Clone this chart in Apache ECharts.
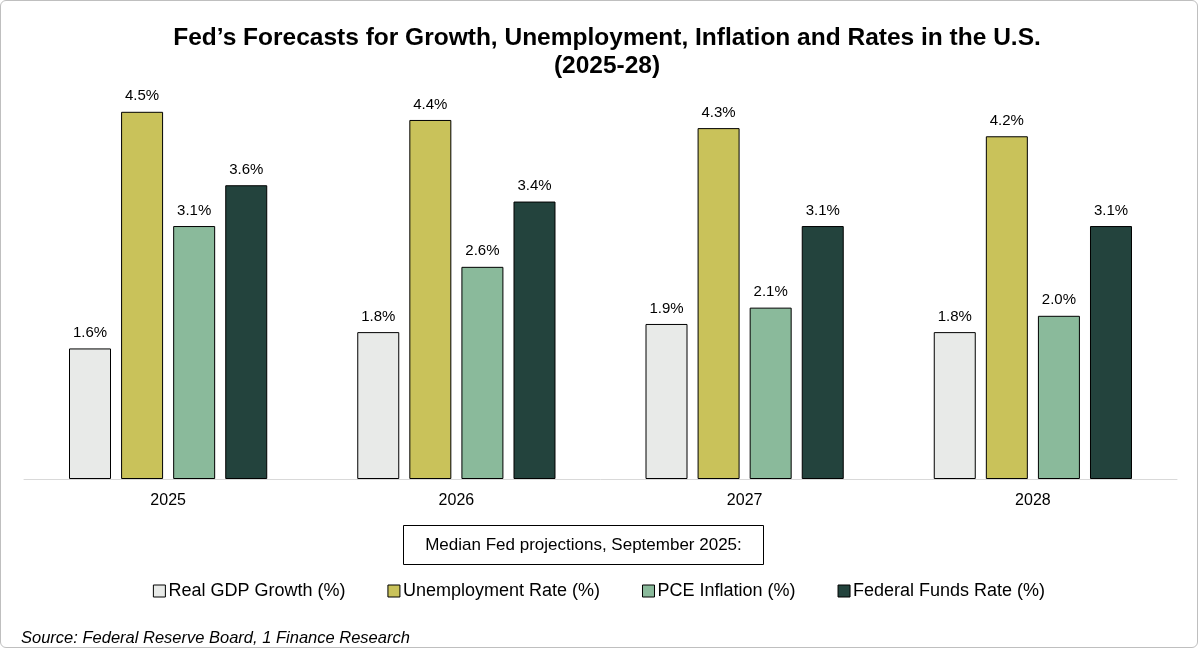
<!DOCTYPE html>
<html>
<head>
<meta charset="utf-8">
<script src="https://cdn.jsdelivr.net/npm/echarts@6/dist/echarts.min.js"></script>
<style>
  html, body { margin: 0; padding: 0; background: #fff; }
  #main { width: 1198px; height: 648px; border: 1px solid #bfbfbf; border-radius: 6px; box-sizing: border-box; }
</style>
</head>
<body>
<div id="main"></div>
<script>
// 数据
var years = ['2025', '2026', '2027', '2028'];
var gdp = [1.6, 1.8, 1.9, 1.8];
var unemployment = [4.5, 4.4, 4.3, 4.2];
var pce = [3.1, 2.6, 2.1, 2.0];
var fedFunds = [3.6, 3.4, 3.1, 3.1];

(function () {
  var chart = echarts.init(document.getElementById('main'));
  var font = '"Liberation Sans", Arial, sans-serif';

  function bar(name, data, color) {
    return {
      name: name,
      type: 'bar',
      data: data,
      barWidth: 42,
      barGap: '24%',
      itemStyle: { color: color, borderColor: '#000', borderWidth: 1 },
      label: {
        show: true,
        position: 'top',
        distance: 8,
        color: '#000',
        fontSize: 15,
        fontFamily: font,
        formatter: function (p) { return p.value.toFixed(1) + '%'; }
      }
    };
  }

  var option = {
    textStyle: { fontFamily: font },
    title: [
      {
        text: 'Fed’s Forecasts for Growth, Unemployment, Inflation and Rates in the U.S.\n(2025-28)',
        left: 601,
        top: 18,
        textAlign: 'center',
        textStyle: { fontSize: 24.5, fontWeight: 'bold', color: '#000', lineHeight: 28, fontFamily: font }
      },
      {
        text: 'Source: Federal Reserve Board, 1 Finance Research',
        left: 15,
        top: 624,
        textStyle: { fontSize: 16.5, fontStyle: 'italic', fontWeight: 'normal', color: '#000', fontFamily: font }
      }
    ],
    graphic: [
      {
        type: 'group',
        left: 402,
        top: 524,
        children: [
          { type: 'rect', shape: { x: 0, y: 0, width: 360, height: 39 }, style: { fill: '#fff', stroke: '#000', lineWidth: 1 } },
          { type: 'text', style: { x: 180, y: 20, text: 'Median Fed projections, September 2025:', align: 'center', verticalAlign: 'middle', fontSize: 17, fontFamily: font, fill: '#000' } }
        ]
      }
    ],
    legend: {
      top: 576,
      left: 'center',
      icon: 'rect',
      itemWidth: 12,
      itemHeight: 12,
      itemGap: 42,
      textStyle: { fontSize: 18, color: '#000', fontFamily: font, padding: [0, 0, 0, -2] },
      itemStyle: { borderColor: '#000', borderWidth: 1 }
    },
    grid: { left: 23, right: 20, top: 70, bottom: 168 },
    xAxis: {
      type: 'category',
      data: years,
      axisLine: { lineStyle: { color: '#d9d9d9', width: 1 } },
      axisTick: { show: false },
      axisLabel: { color: '#000', fontSize: 16, margin: 14, fontFamily: font }
    },
    yAxis: {
      type: 'value',
      min: 0,
      max: 5,
      show: false,
      splitLine: { show: false }
    },
    series: [
      bar('Real GDP Growth (%)', gdp, '#e8eae8'),
      bar('Unemployment Rate (%)', unemployment, '#c9c25a'),
      bar('PCE Inflation (%)', pce, '#8aba9b'),
      bar('Federal Funds Rate (%)', fedFunds, '#23433d')
    ]
  };

  chart.setOption(option);
  window.addEventListener('resize', function () { chart.resize(); });
})();
</script>
</body>
</html>
